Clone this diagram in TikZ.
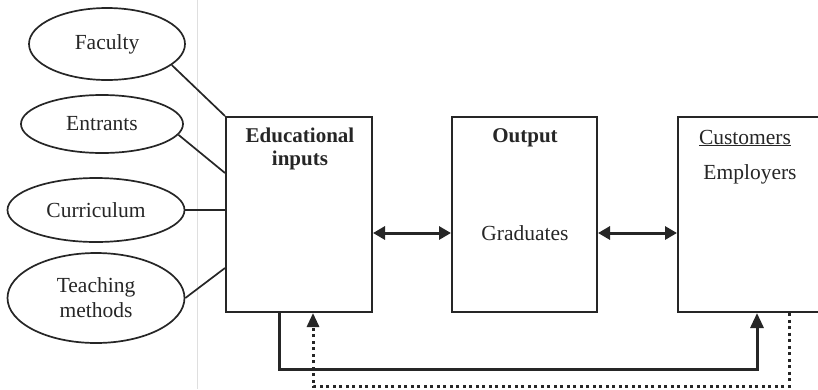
\documentclass[tikz,border=0pt]{standalone}
\usepackage{fontspec}
\setmainfont{Liberation Serif}
\usetikzlibrary{shapes.geometric,arrows.meta}
\definecolor{ink}{gray}{0.15}
\tikzset{
  txt/.style={font=\fontsize{21.5}{25}\selectfont, text=ink, inner sep=0pt, align=center},
  oval/.style={ellipse, draw=ink, line width=1.7pt, inner sep=0pt, txt},
  box/.style={draw=ink, line width=2pt, minimum height=195pt, inner sep=0pt},
  link/.style={draw=ink, line width=1.7pt},
  dbl/.style={draw=ink, line width=3pt, {Triangle[length=12pt,width=13pt]}-{Triangle[length=12pt,width=13pt]}},
  fb/.style={draw=ink, line width=3pt, -{Triangle[length=15pt,width=13pt]}},
  fbdot/.style={draw=ink, line width=3pt, dash pattern=on 3pt off 3.5pt, -{Triangle[length=14pt,width=12pt]}}
}
\begin{document}
\begin{tikzpicture}[x=1pt,y=-1pt]
\useasboundingbox (0,0) rectangle (818,389);
\clip (0,0) rectangle (818,389);
\fill[white] (0,0) rectangle (818,389);
% faint page gutter line
\draw[gray!25, line width=1pt] (197,0) -- (197,389);

\node[oval, minimum width=156pt, minimum height=72pt] (fac) at (107,44) {Faculty};
\node[oval, minimum width=162pt, minimum height=58pt] (ent) at (102,124) {Entrants};
\node[oval, minimum width=177pt, minimum height=64pt] (cur) at (96,210) {Curriculum};
\node[oval, minimum width=177pt, minimum height=90pt] (tea) at (96,298) {Teaching\\[0pt]methods};

\node[box, minimum width=146pt] (b1) at (299,214.5) {};
\node[box, minimum width=145pt] (b2) at (524.5,214.5) {};
\node[box, minimum width=152pt] (b3) at (754,214.5) {};

\node[txt, font=\fontsize{21}{23}\selectfont\bfseries] (t1) at (300,149) {Educational\\inputs};
\node[txt, font=\fontsize{21}{23}\selectfont\bfseries] (t2) at (525,138) {Output};
\node[txt] (t3) at (525,233) {Graduates};
\node[txt] (t4) at (745,138) {\underline{Customers}};
\node[txt] (t5) at (750,174) {Employers};

\draw[link] (fac.-18) -- (b1.north west);
\draw[link] (ent.-8) -- ([yshift=41.5pt]b1.west);
\draw[link] (cur.east) -- (b1.west |- cur.east);
\draw[link] (tea.east) -- ([yshift=-53.5pt]b1.west);

\draw[dbl] ([yshift=-18.5pt]b1.east) -- ([yshift=-18.5pt]b2.west);
\draw[dbl] ([yshift=-18.5pt]b2.east) -- ([yshift=-18.5pt]b3.west);

\draw[fb] ([xshift=-20pt]b1.south) -- ++(0,56) -| ([xshift=3pt]b3.south);
\draw[fbdot] ([xshift=35pt]b3.south) -- ++(0,73) -| ([xshift=14pt]b1.south);
\end{tikzpicture}
\end{document}
